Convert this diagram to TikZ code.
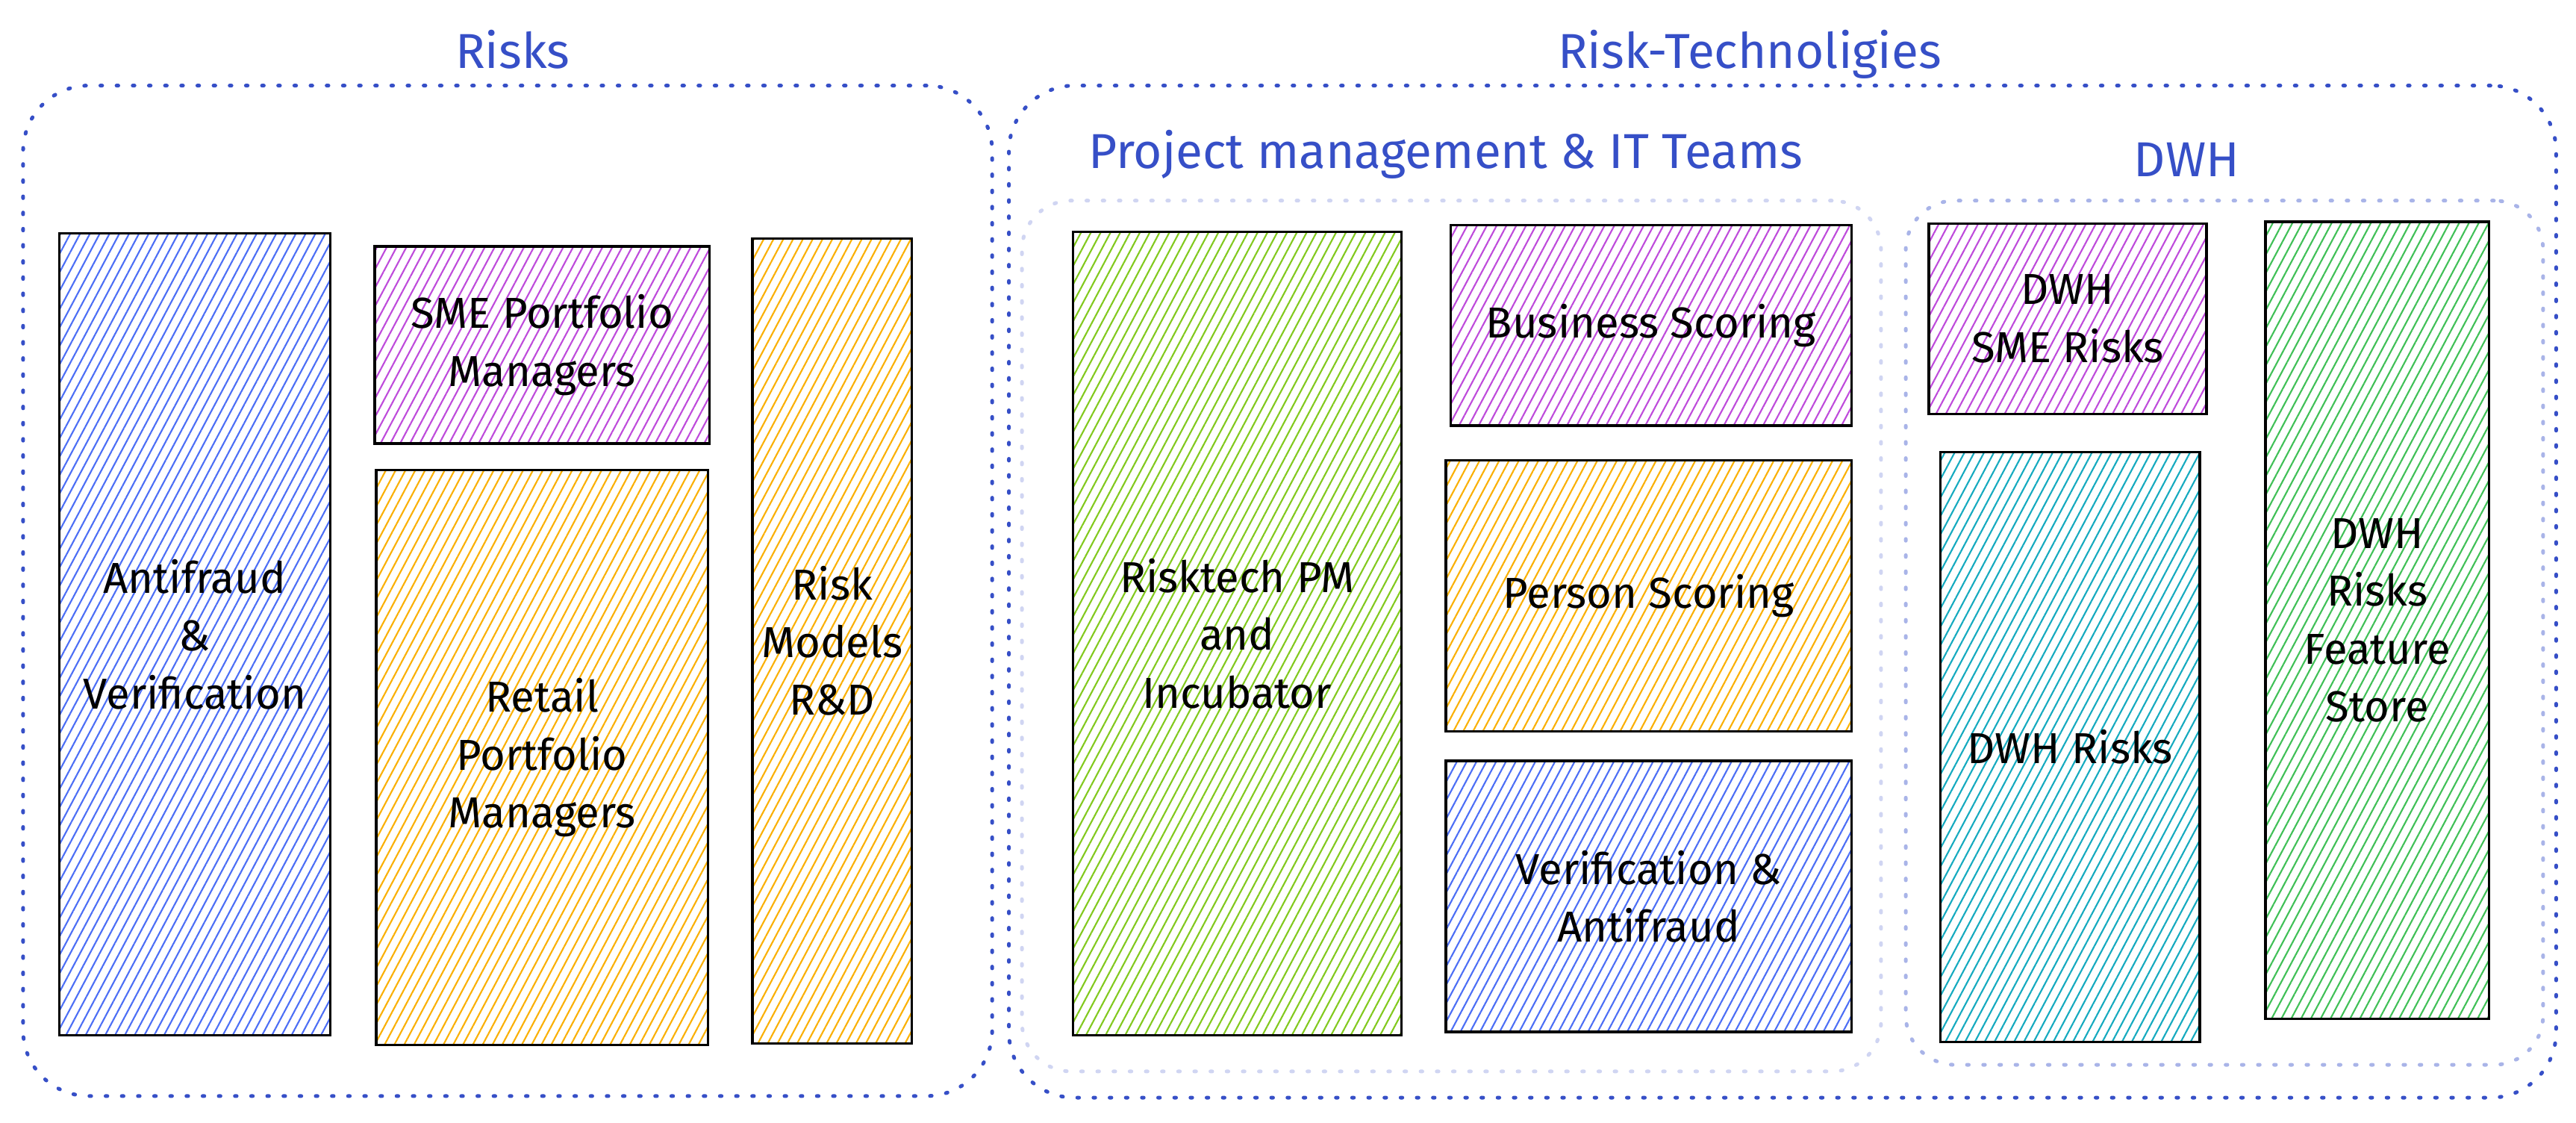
\documentclass[tikz,border=0pt]{standalone}
\usepackage{fontspec}
\setmainfont{Fira Sans}
\usetikzlibrary{patterns.meta}
\usepackage{xcolor}
\definecolor{titleblue}{HTML}{364FC7}
\definecolor{pmline}{HTML}{D0D5F2}
\definecolor{dwhline}{HTML}{A9B4E8}
\definecolor{hblue}{HTML}{4C6EF5}
\definecolor{hpurple}{HTML}{BE4BDB}
\definecolor{horange}{HTML}{FAB005}
\definecolor{hlime}{HTML}{82C91E}
\definecolor{hcyan}{HTML}{15AABF}
\definecolor{hgreen}{HTML}{40C057}

\begin{document}
\begin{tikzpicture}[x=0.02cm,y=-0.02cm,
  grp/.style={draw=#1,line width=1.3pt,dash pattern=on 0.6pt off 5pt,line cap=round,inner sep=0pt},
  team/.style={draw=black,line width=0.9pt,align=center,inner sep=0pt,
    font=\fontsize{15}{20}\selectfont,
    pattern={Lines[angle=62,distance=3pt,line width=0.55pt]},pattern color=#1},
  heading/.style={text=titleblue,font=\fontsize{17}{20}\selectfont}]
\useasboundingbox (0,0) rectangle (1568,683);

% groups
\node[grp=titleblue,rounded corners=0.8cm,minimum width=11.8cm,minimum height=12.3cm] (risks) at (309,359.5) {};
\node[grp=titleblue,rounded corners=0.8cm,minimum width=18.84cm,minimum height=12.32cm] (risktech) at (1085,360) {};
\node[grp=pmline,rounded corners=0.6cm,minimum width=10.46cm,minimum height=10.6cm] (pmteams) at (883.5,387) {};
\node[grp=dwhline,rounded corners=0.6cm,minimum width=7.76cm,minimum height=10.52cm] (dwh) at (1354,385) {};

\node[heading] (risksT) at (312,30) {Risks};
\node[heading] (risktechT) at (1065,33) {Risk-Technoligies};
\node[heading] (pmteamsT) at (880,94) {Project management \& IT Teams};
\node[heading] (dwhT) at (1331,97) {DWH};

% Risks teams
\node[team=hblue,minimum width=3.3cm,minimum height=9.76cm] (antifraud) at (118.5,386) {Antifraud\\\&\\Verification};
\node[team=hpurple,minimum width=4.08cm,minimum height=2.4cm] (smepm) at (330,210) {SME Portfolio\\Managers};
\node[team=horange,minimum width=4.04cm,minimum height=7cm] (retailpm) at (330,461) {Retail\\Portfolio\\Managers};
\node[team=horange,minimum width=1.94cm,minimum height=9.8cm] (models) at (506.5,390) {Risk\\Models\\R\&D};

% Risk-Technologies teams
\node[team=hlime,minimum width=4cm,minimum height=9.78cm] (incub) at (753,385.5) {Risktech PM\\and\\Incubator};
\node[team=hpurple,minimum width=4.88cm,minimum height=2.44cm] (bizscore) at (1005,198) {Business Scoring};
\node[team=horange,minimum width=4.94cm,minimum height=3.3cm] (personscore) at (1003.5,362.5) {Person Scoring};
\node[team=hblue,minimum width=4.94cm,minimum height=3.3cm] (verif) at (1003.5,545.5) {Verification \&\\Antifraud};
\node[team=hpurple,minimum width=3.38cm,minimum height=2.32cm] (dwhsme) at (1258.5,194) {DWH\\SME Risks};
\node[team=hcyan,minimum width=3.16cm,minimum height=7.18cm] (dwhrisks) at (1260,454.5) {DWH Risks};
\node[team=hgreen,minimum width=2.72cm,minimum height=9.7cm] (featstore) at (1447,377.5) {DWH\\Risks\\Feature\\Store};
\end{tikzpicture}
\end{document}
